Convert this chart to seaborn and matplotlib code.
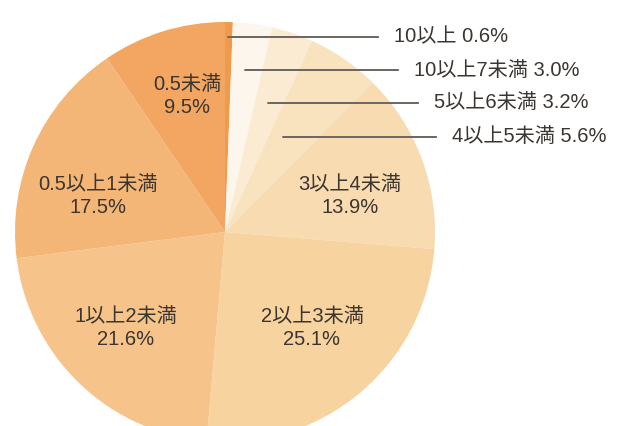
import numpy as np
import matplotlib
matplotlib.use("Agg")
import matplotlib.pyplot as plt
import seaborn as sns

# slices, clockwise from 12 o'clock
categories = ["10以上", "10以上7未満", "5以上6未満", "4以上5未満", "3以上4未満",
              "2以上3未満", "1以上2未満", "0.5以上1未満", "0.5未満"]
shares = [0.6, 3.0, 3.2, 5.6, 13.9, 25.1, 21.6, 17.5, 9.5]
colors = ["#F09A4E", "#FDF6EC", "#FBEBD2", "#F9E2BE", "#F8DBB0",
          "#F7D39F", "#F6C48A", "#F4B676", "#F2A662"]

sns.set_theme(style="white")
plt.rcParams["font.family"] = ["Liberation Sans", "Noto Sans CJK JP", "DejaVu Sans"]

W, H = 634, 426
CX, CY, R = 225, 232, 210


def px(x, y):
    # picture pixel -> data units (pie radius = 1)
    return (x - CX) / R, (CY - y) / R


fig = plt.figure(figsize=(W / 100, H / 100), dpi=100)
ax = fig.add_axes([0, 0, 1, 1])
ax.pie(shares, colors=colors, startangle=90, counterclock=False,
       radius=1, wedgeprops=dict(linewidth=0))
ax.set_xlim(px(0, 0)[0], px(W, 0)[0])
ax.set_ylim(px(0, H)[1], px(0, 0)[1])
ax.set_aspect("equal")
ax.axis("off")

txt = "#3a3530"
fs = 14.5

# labels inside the big slices
inside = {4: (350, 196), 5: (312, 328), 6: (126, 328), 7: (98, 196), 8: (187, 96)}
for i, (x, y) in inside.items():
    ax.text(*px(x, y), f"{categories[i]}\n{shares[i]:.1f}%", ha="center", va="center",
            fontsize=fs, color=txt, linespacing=1.3)

# leader lines for the thin slices
outside = {0: (228, 37, 385), 1: (245, 70, 405), 2: (268, 103, 425), 3: (283, 137, 443)}
for i, (x0, y, x1) in outside.items():
    ax.annotate(f"{categories[i]} {shares[i]:.1f}%", xy=px(x0, y), xytext=px(x1 + 9, y),
                ha="left", va="center", fontsize=fs, color=txt,
                arrowprops=dict(arrowstyle="-", color="#6b6560", lw=1.4,
                                shrinkA=9, shrinkB=0))

fig.savefig("out.png", dpi=100)
